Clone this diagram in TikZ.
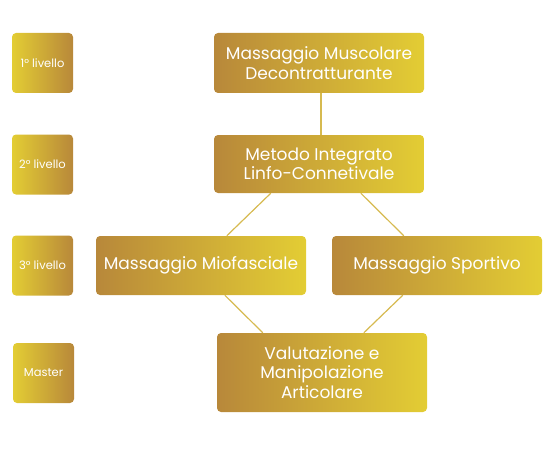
\documentclass[tikz,border=0pt]{standalone}
\usepackage{fontspec}
\setmainfont{Poppins}
\definecolor{goldbrown}{RGB}{184,136,58}
\definecolor{goldyellow}{RGB}{227,205,52}
\definecolor{goldline}{RGB}{214,186,80}

\begin{document}
\begin{tikzpicture}[x=1pt, y=-1pt,
    levelbox/.style={rounded corners=4pt, left color=goldyellow, right color=goldbrown, text=white,
      minimum width=61pt, minimum height=60pt, inner sep=0pt, font=\fontsize{11.5}{14}\selectfont},
    coursebox/.style={rounded corners=4pt, left color=goldbrown, right color=goldyellow, text=white,
      minimum width=210pt, minimum height=59pt, inner sep=0pt, align=center, font=\fontsize{17}{19.5}\selectfont},
    link/.style={draw=goldline, line width=1.2pt}]
    \useasboundingbox (0,0) rectangle (552,452);
    % levels on the left
    \node[levelbox] (lvl1) at (42.5,63) {1° livello};
    \node[levelbox] (lvl2) at (42.5,164.5) {2° livello};
    \node[levelbox] (lvl3) at (42.5,265.5) {3° livello};
    \node[levelbox] (lvlm) at (43.5,373) {Master};
    % courses
    \node[coursebox, minimum height=60pt] (muscolare) at (319,63) {Massaggio Muscolare\\Decontratturante};
    \node[coursebox, minimum height=58pt] (linfo) at (319,164) {Metodo Integrato\\Linfo-Connetivale};
    \node[coursebox] (mio) at (201,265.5) {Massaggio Miofasciale};
    \node[coursebox] (sport) at (437,265.5) {\raisebox{-3pt}{Massaggio Sportivo}};
    \node[coursebox, minimum height=79pt] (valut) at (322,372.5) {Valutazione e\\Manipolazione\\Articolare};
    \draw[link] ([xshift=2pt]muscolare.south) -- ([xshift=2pt]linfo.north);
    \draw[link] ([xshift=57pt]linfo.south west) -- ([xshift=131pt]mio.north west);
    \draw[link] ([xshift=147pt]linfo.south west) -- ([xshift=72pt]sport.north west);
    \draw[link] ([xshift=129pt]mio.south west) -- ([xshift=46pt]valut.north west);
    \draw[link] ([xshift=71pt]sport.south west) -- ([xshift=147pt]valut.north west);
\end{tikzpicture}
\end{document}
